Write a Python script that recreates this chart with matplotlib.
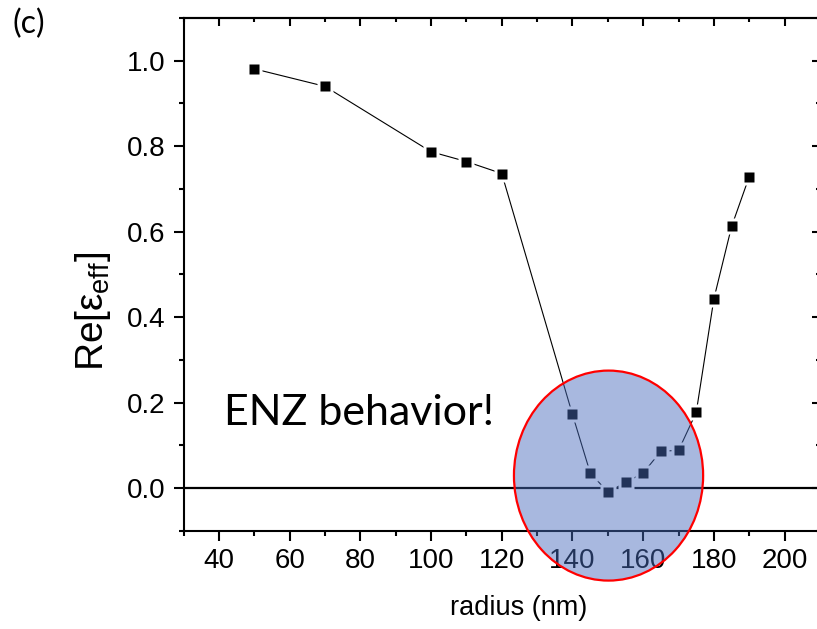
import matplotlib
matplotlib.use("Agg")
import matplotlib.pyplot as plt
from matplotlib.patches import Ellipse
from matplotlib.ticker import MultipleLocator

# radius sweep and real part of the effective permittivity
radius_nm = [50, 70, 100, 110, 120, 140, 145, 150, 155, 160, 165, 170, 175, 180, 185, 190]
re_eps = [0.981, 0.940, 0.787, 0.764, 0.736, 0.172, 0.036, -0.010, 0.013, 0.035,
          0.086, 0.088, 0.177, 0.443, 0.612, 0.729]
x_ticks = [40, 60, 80, 100, 120, 140, 160, 180, 200]
y_ticks = [0.0, 0.2, 0.4, 0.6, 0.8, 1.0]

plt.rcParams.update({"font.family": ["Liberation Sans", "DejaVu Sans"],
                     "mathtext.fontset": "custom",
                     "mathtext.rm": "Liberation Sans",
                     "mathtext.it": "Liberation Sans",
                     "mathtext.sf": "Liberation Sans"})

fig = plt.figure(figsize=(8.17, 6.29), dpi=100)
ax = fig.add_axes([183.5 / 817, 98.3 / 629, 636.5 / 817, 512.7 / 629])
ax.set_xlim(30, 210)
ax.set_ylim(-0.1, 1.1)

# connecting line with Origin-style gaps around symbols (white halo under each square)
ax.plot(radius_nm, re_eps, color="black", lw=0.8, zorder=2)
ax.plot(radius_nm, re_eps, ls="none", marker="s", ms=12, mfc="white", mec="none", zorder=3)
ax.plot(radius_nm, re_eps, ls="none", marker="s", ms=7.8, mfc="black", mec="none", zorder=4)
ax.axhline(0, color="black", lw=1.6, zorder=2)

# ENZ region highlight
ell = Ellipse((150.2, 0.029), width=53.5, height=0.4915,
              facecolor=(73 / 255, 108 / 255, 188 / 255, 0.48),
              edgecolor="red", lw=1.6, zorder=6, clip_on=False)
ax.add_patch(ell)

ax.text(41.5, 0.175, "ENZ behavior!", family=["Lato", "DejaVu Sans"], fontsize=31,
        ha="left", va="center", zorder=7)
fig.text(12 / 817, 1 - 24 / 629, "(c)", family=["Lato", "DejaVu Sans"], fontsize=23,
         ha="left", va="center")

ax.set_xticks(x_ticks)
ax.set_yticks(y_ticks)
ax.set_yticklabels([f"{v:.1f}" for v in y_ticks])
ax.xaxis.set_minor_locator(MultipleLocator(10))
ax.yaxis.set_minor_locator(MultipleLocator(0.1))
ax.tick_params(which="major", direction="out", length=7.2, width=1.5, labelsize=20, pad=5.5)
ax.tick_params(which="minor", direction="out", length=3.6, width=1.5)
for s in ax.spines.values():
    s.set_linewidth(1.5)

# mirrored inward ticks on top and right, no labels
top = ax.secondary_xaxis("top")
top.set_xticks(x_ticks)
top.xaxis.set_minor_locator(MultipleLocator(10))
top.tick_params(which="major", direction="in", length=6, width=1.5, labeltop=False)
top.tick_params(which="minor", direction="in", length=3, width=1.5)
top.spines["top"].set_linewidth(1.5)
right = ax.secondary_yaxis("right")
right.set_yticks(y_ticks)
right.yaxis.set_minor_locator(MultipleLocator(0.1))
right.tick_params(which="major", direction="in", length=6, width=1.5, labelright=False)
right.tick_params(which="minor", direction="in", length=3, width=1.5)
right.spines["right"].set_linewidth(1.5)

ax.set_xlabel("radius (nm)", fontsize=19.5)
ax.xaxis.set_label_coords((519 - 183.5) / 636.5, -0.125)
ax.set_ylabel(r"Re[$\varepsilon_{\mathrm{eff}}$]", fontsize=28)
ax.yaxis.set_label_coords(-0.11, 0.4285)

fig.savefig("out.png", dpi=100)
